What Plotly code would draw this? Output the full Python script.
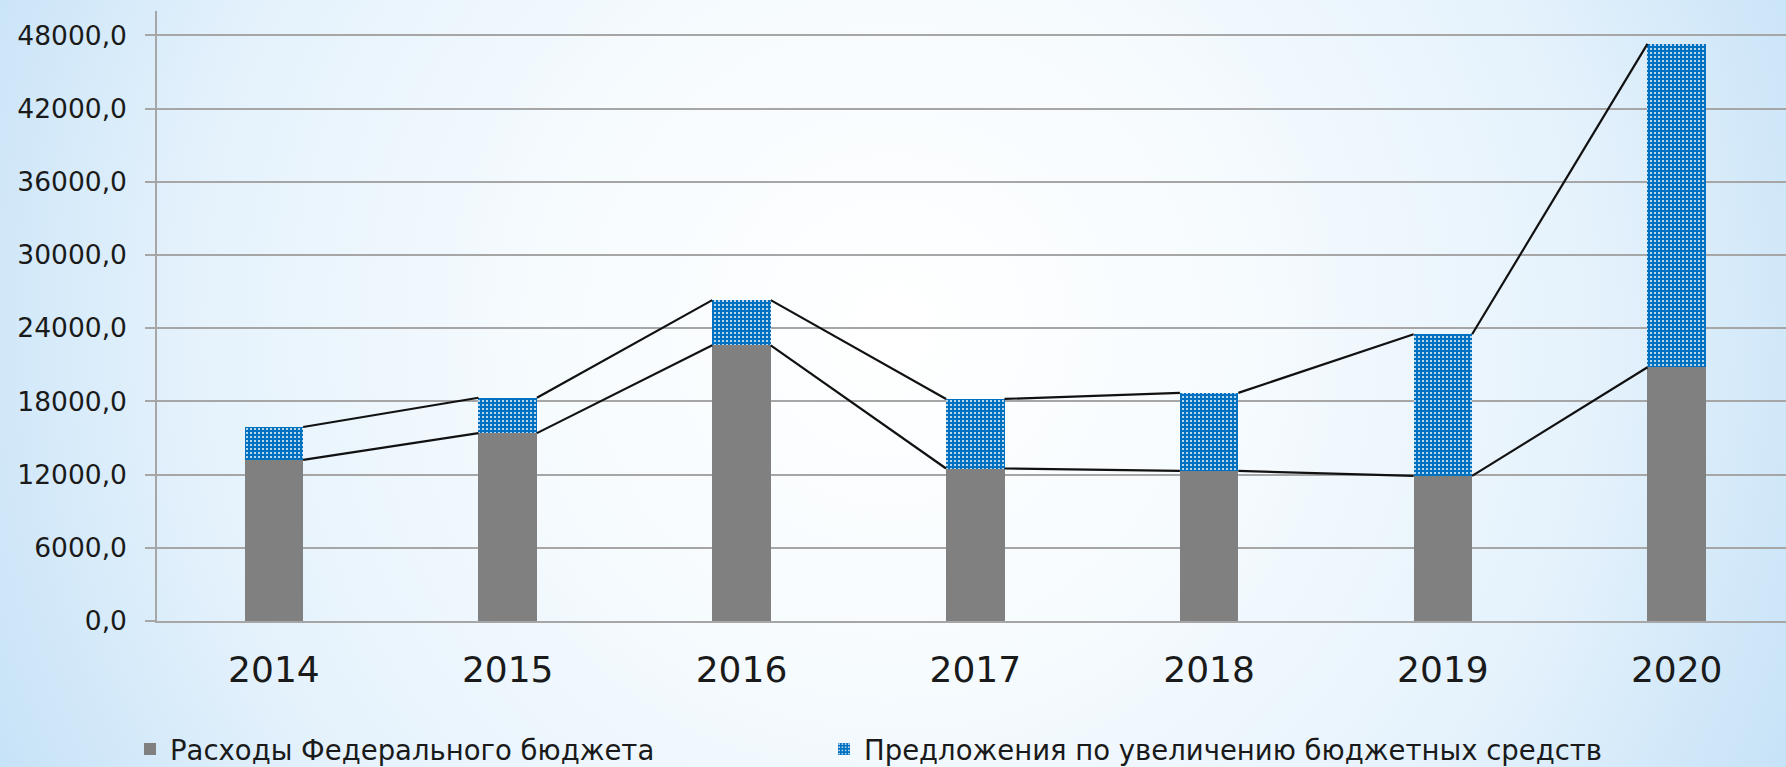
import base64
import plotly.graph_objects as go

# ---- data ----
years = ["2014", "2015", "2016", "2017", "2018", "2019", "2020"]
federal = [13200, 15400, 22600, 12500, 12300, 11900, 20800]
proposals = [2700, 2900, 3700, 5700, 6400, 11600, 26500]
y_ticks = [0, 6000, 12000, 18000, 24000, 30000, 36000, 42000, 48000]
y_tick_text = ["0,0", "6000,0", "12000,0", "18000,0", "24000,0", "30000,0",
               "36000,0", "42000,0", "48000,0"]
name_federal = "Расходы Федерального бюджета"
name_proposals = "Предложения по увеличению бюджетных средств"

# ---- layout geometry ----
W, H = 1786, 767
ML, MR, MT, MB = 157, 0, 11, 146
PW, PH = W - ML - MR, H - MT - MB
CAT_PX = 233.8
bar_w = 0.25

xs = list(range(len(years)))
totals = [a + b for a, b in zip(federal, proposals)]


def series_line(vals):
    lx, ly = [], []
    for i in range(len(vals) - 1):
        lx += [xs[i] + bar_w / 2, xs[i + 1] - bar_w / 2, None]
        ly += [vals[i], vals[i + 1], None]
    return lx, ly


fig = go.Figure()
fig.add_trace(go.Bar(
    x=xs, y=federal, name=name_federal, width=bar_w, legend="legend",
    marker=dict(color="#808080", line=dict(width=0)),
))
fig.add_trace(go.Bar(
    x=xs, y=proposals, name=name_proposals, width=bar_w, legend="legend2",
    marker=dict(color="#0070C0", line=dict(width=0),
                pattern=dict(shape=".", bgcolor="#0070C0", fgcolor="#ffffff",
                             fgopacity=0.9, size=4, solidity=0.22)),
))
for vals in (federal, totals):
    lx, ly = series_line(vals)
    fig.add_trace(go.Scatter(x=lx, y=ly, mode="lines", showlegend=False,
                             hoverinfo="skip",
                             line=dict(color="#111111", width=2.2)))

svg = (
    f'<svg xmlns="http://www.w3.org/2000/svg" width="{W}" height="{H}" '
    f'viewBox="0 0 {W} {H}" preserveAspectRatio="none">'
    '<defs><radialGradient id="g" gradientUnits="userSpaceOnUse" '
    f'cx="{W/2:.0f}" cy="330" r="1000">'
    '<stop offset="0" stop-color="#ffffff"/>'
    '<stop offset="0.35" stop-color="#f6fbfe"/>'
    '<stop offset="0.7" stop-color="#e5f2fc"/>'
    '<stop offset="1" stop-color="#c6e2f7"/>'
    '</radialGradient></defs>'
    f'<rect x="0" y="0" width="{W}" height="{H}" fill="url(#g)"/></svg>'
)
src = "data:image/svg+xml;base64," + base64.b64encode(svg.encode()).decode()

legend_font = dict(size=27.5, family="DejaVu Sans, Verdana, sans-serif",
                   color="#1a1a1a")
LEG_Y = (H - 749) / H
fig.update_layout(
    width=W, height=H,
    margin=dict(l=ML, r=MR, t=MT, b=MB, pad=0),
    barmode="stack",
    paper_bgcolor="#eaf4fc",
    plot_bgcolor="rgba(0,0,0,0)",
    font=dict(family="DejaVu Sans, Verdana, sans-serif", color="#1a1a1a"),
    images=[dict(source=src, xref="paper", yref="paper",
                 x=-ML / PW, y=1 + MT / PH, sizex=W / PW, sizey=H / PH,
                 xanchor="left", yanchor="top", sizing="stretch",
                 layer="below")],
    showlegend=True,
    legend=dict(orientation="h", xref="container", yref="container",
                x=130 / W, y=LEG_Y, xanchor="left", yanchor="middle",
                font=legend_font, bgcolor="rgba(0,0,0,0)"),
    legend2=dict(orientation="h", xref="container", yref="container",
                 x=824 / W, y=LEG_Y, xanchor="left", yanchor="middle",
                 font=legend_font, bgcolor="rgba(0,0,0,0)"),
)
fig.update_xaxes(
    range=[-0.5, -0.5 + PW / CAT_PX],
    tickmode="array", tickvals=xs, ticktext=years,
    tickfont=dict(size=36, color="#1a1a1a"),
    showgrid=False, zeroline=False,
    showline=True, linecolor="#A6A6A6", linewidth=1.5,
    ticks="", ticklabelstandoff=16,
)
fig.update_yaxes(
    range=[0, 50000],
    tickmode="array", tickvals=y_ticks, ticktext=y_tick_text,
    tickfont=dict(size=26.5, color="#1a1a1a"),
    showgrid=True, gridcolor="#A6A6A6", gridwidth=1.5,
    zeroline=False,
    showline=True, linecolor="#A6A6A6", linewidth=1.5,
    ticks="outside", ticklen=10, tickcolor="#A6A6A6", tickwidth=1.5,
    ticklabelstandoff=13,
)

fig.write_html("out.html", config={"displayModeBar": False},
               post_script="document.body.style.margin='0';"
                           "document.body.style.overflow='hidden';")
